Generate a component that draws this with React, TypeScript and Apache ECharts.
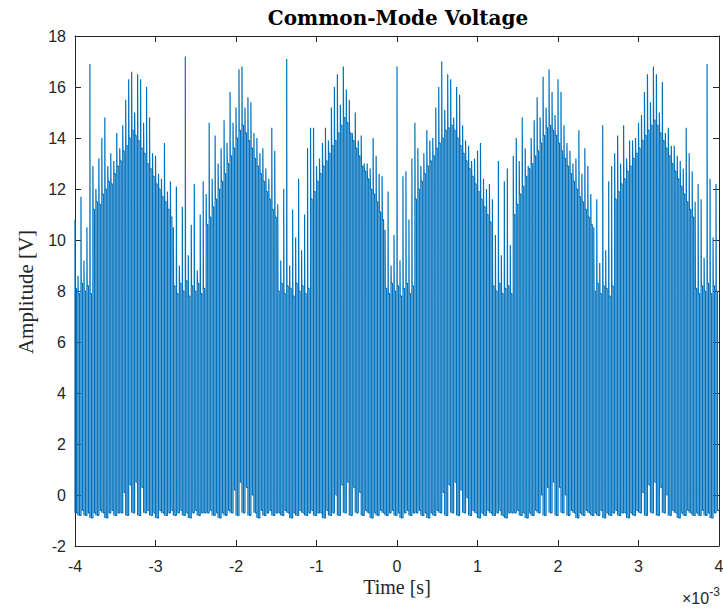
import React, { useEffect, useRef } from "react";
import * as echarts from "echarts";

// Time axis (milliseconds; axis shows ×10^-3 s)
const timeStartMs = -4;
const pulseCount = 216;
const pulsePeriodMs = 8 / pulseCount;

// Plateau level of each switching pulse [V]
const pulseTop = [
  // trough
  8.1, 7.9, 8.3, 8.0, 8.2, 7.9,
  // hump 1
  11.2, 11.5, 11.4, 11.8, 12.0, 12.3, 12.2, 12.6, 12.9, 13.1, 13.5, 13.7, 14.0, 14.3, 14.1, 13.9, 13.6, 13.4, 13.0, 12.8, 12.5, 12.2, 12.0, 11.7, 11.5, 11.2, 10.9,
  // trough
  8.2, 7.9, 8.3, 8.0, 8.4, 7.8, 8.2, 8.0, 8.3, 7.9, 8.1,
  // hump 2
  10.6, 10.9, 11.3, 11.6, 12.0, 12.3, 12.6, 13.0, 13.3, 13.6, 14.0, 14.3, 14.5, 14.2, 13.9, 13.6, 13.2, 12.9, 12.6, 12.3, 11.9, 11.6, 11.2, 10.9,
  // trough
  8.0, 8.3, 7.9, 8.2, 8.1, 7.8, 8.3, 8.0, 8.2, 7.9, 8.1,
  // hump 3
  11.6, 11.9, 12.3, 12.6, 12.9, 13.1, 13.4, 13.7, 13.9, 14.2, 14.5, 14.8, 14.6, 14.2, 13.9, 13.6, 13.3, 12.9, 12.7, 12.4, 12.0, 11.8, 11.5, 11.1, 10.8,
  // trough
  8.1, 7.9, 8.3, 8.0, 8.2, 7.8, 8.1, 8.3, 7.9, 8.2,
  // hump 4
  11.6, 12.0, 12.3, 12.6, 12.9, 13.1, 13.3, 13.6, 13.8, 14.0, 14.3, 14.4, 14.5, 14.3, 14.0, 13.7, 13.4, 13.1, 12.8, 12.5, 12.2, 11.9, 11.6, 11.3, 11.0, 10.7,
  // trough
  8.2, 8.0, 8.3, 7.9, 8.1, 8.2, 7.9,
  // hump 5
  11.0, 11.4, 11.8, 12.1, 12.5, 12.8, 13.0, 13.3, 13.5, 13.8, 14.1, 14.4, 14.5, 14.3, 14.1, 13.8, 13.5, 13.2, 12.9, 12.6, 12.3, 12.0, 11.7, 11.5, 11.2, 10.9, 10.6,
  // trough
  8.0, 8.3, 7.9, 8.2, 8.1, 7.8, 8.2,
  // hump 6
  11.6, 11.9, 12.2, 12.4, 12.7, 12.9, 13.2, 13.4, 13.6, 13.9, 14.1, 14.3, 14.5, 14.7, 14.5, 14.2, 13.9, 13.6, 13.3, 13.0, 12.7, 12.4, 12.1, 11.8, 11.5, 11.2, 10.9,
  // trough
  8.1, 7.9, 8.2, 8.0, 8.3, 7.9, 8.2, 8.0,
];

// Overshoot peak at each rising edge [V]
const pulseSpike = [
  10.8, 8.6, 11.7, 9.2, 10.5, 16.9,
  12.9, 12.0, 13.2, 14.0, 14.8, 12.9, 13.4, 13.1, 14.2, 13.6, 14.5, 15.5, 16.3, 16.6, 15.0, 16.5, 16.3, 14.6, 16.0, 14.8, 13.4, 13.3, 12.6, 12.4, 13.8, 11.9, 12.3,
  10.5, 12.1, 9.0, 11.3, 17.2, 9.4, 10.6, 12.2, 8.8, 11.0, 12.3,
  11.8, 14.6, 12.4, 14.1, 13.0, 13.6, 14.7, 13.8, 15.8, 14.6, 15.2, 16.7, 16.8, 15.2, 15.6, 15.4, 14.2, 14.0, 13.4, 13.6, 12.8, 12.4, 14.4, 13.5,
  11.4, 9.2, 12.0, 17.1, 9.0, 11.2, 10.1, 12.4, 9.6, 11.0, 13.6,
  14.4, 14.4, 12.9, 13.2, 13.8, 14.4, 13.9, 15.2, 16.0, 16.5, 15.3, 16.8, 15.9, 15.5, 14.2, 15.0, 13.9, 14.1, 13.0, 13.0, 12.8, 14.0, 13.3, 12.6, 12.5,
  10.4, 11.9, 9.0, 10.2, 16.8, 9.2, 12.5, 12.7, 10.8, 13.2,
  14.6, 13.6, 12.9, 13.4, 14.3, 13.9, 14.0, 15.2, 16.0, 17.0, 15.1, 16.5, 16.3, 14.8, 16.0, 15.7, 14.5, 13.9, 13.7, 13.1, 13.2, 13.5, 13.8, 12.4, 12.0, 12.2,
  11.6, 10.2, 13.1, 9.4, 12.3, 12.8, 9.8,
  13.3, 14.0, 13.1, 14.8, 13.6, 12.9, 14.0, 14.7, 15.6, 14.8, 16.4, 15.2, 16.7, 15.8, 14.9, 16.3, 15.8, 14.5, 13.8, 13.5, 13.0, 13.2, 14.3, 12.6, 13.6, 12.9, 11.8,
  10.5, 11.6, 9.1, 14.5, 9.6, 12.3, 12.9,
  13.4, 14.1, 13.0, 14.5, 13.2, 13.9, 13.9, 14.0, 14.6, 14.9, 15.8, 16.5, 15.4, 16.8, 16.5, 15.0, 16.2, 14.2, 14.4, 13.7, 13.7, 13.3, 13.1, 12.8, 14.4, 13.4, 12.7,
  11.5, 12.2, 11.6, 9.3, 16.9, 12.4, 10.1, 12.2,
];

// Low level between pulses [V]
const pulseLow = [
  -0.7, -0.8, -0.6, -0.8, -0.7, -0.9,
  -0.7, -0.8, -0.6, -0.7, -0.9, -0.7, -0.6, -0.8, -0.7, -0.7, 0.1, -0.8, 0.4, -0.7, 0.5, -0.8, 0.3, -0.7, -0.6, -0.8, -0.7, -0.9, -0.6, -0.7, -0.8, -0.7, -0.6,
  -0.8, -0.7, -0.6, -0.8, -0.7, -0.9, -0.7, -0.6, -0.8, -0.7, -0.7,
  -0.7, -0.6, -0.8, -0.7, -0.9, -0.7, -0.8, -0.6, -0.7, 0.2, -0.8, 0.5, -0.7, 0.3, -0.8, 0.0, -0.7, -0.9, -0.6, -0.8, -0.7, -0.6, -0.8, -0.7,
  -0.7, -0.8, -0.6, -0.7, -0.9, -0.7, -0.8, -0.6, -0.7, -0.8, -0.7,
  -0.6, -0.8, -0.7, -0.7, -0.9, -0.6, -0.8, -0.7, 0.0, -0.8, 0.4, -0.7, 0.5, -0.8, 0.3, -0.7, 0.1, -0.8, -0.6, -0.7, -0.9, -0.7, -0.8, -0.6, -0.7,
  -0.8, -0.7, -0.6, -0.8, -0.7, -0.9, -0.7, -0.6, -0.8, -0.7,
  -0.7, -0.6, -0.8, -0.7, -0.9, -0.7, -0.8, -0.6, -0.7, 0.1, -0.8, 0.4, -0.7, 0.5, -0.8, 0.2, -0.7, -0.1, -0.8, -0.6, -0.7, -0.9, -0.7, -0.8, -0.6, -0.7,
  -0.8, -0.7, -0.6, -0.8, -0.9, -0.7, -0.7,
  -0.7, -0.6, -0.8, -0.7, -0.9, -0.7, -0.8, -0.6, -0.7, 0.0, -0.8, 0.3, -0.7, 0.5, -0.8, 0.3, -0.7, 0.0, -0.8, -0.6, -0.7, -0.9, -0.7, -0.8, -0.6, -0.7, -0.8,
  -0.7, -0.8, -0.6, -0.9, -0.7, -0.8, -0.7,
  -0.6, -0.8, -0.7, -0.7, -0.9, -0.7, -0.8, -0.6, -0.7, 0.1, -0.8, 0.4, -0.7, 0.5, -0.8, 0.3, -0.7, 0.0, -0.8, -0.6, -0.7, -0.9, -0.7, -0.8, -0.6, -0.7, -0.8,
  -0.7, -0.8, -0.6, -0.8, -0.7, -0.9, -0.7, -0.6,
];

const xMin = -4;
const xMax = 4;
const xStep = 1;
const yMin = -2;
const yMax = 18;
const yStep = 2;

const titleText = "Common-Mode Voltage";
const xLabelText = "Time [s]";
const yLabelText = "Amplitude [V]";

function buildWave(): [number, number][] {
  const pts: [number, number][] = [];
  for (let i = 0; i < pulseTop.length; i++) {
    const t0 = timeStartMs + i * pulsePeriodMs;
    const lo = pulseLow[i];
    pts.push([t0, lo]);
    pts.push([t0, pulseSpike[i]]);
    pts.push([t0 + pulsePeriodMs * 0.08, pulseTop[i]]);
    pts.push([t0 + pulsePeriodMs * 0.5, pulseTop[i]]);
    pts.push([t0 + pulsePeriodMs * 0.5, lo]);
    pts.push([t0 + pulsePeriodMs, lo]);
  }
  return pts;
}

const axisColor = "#262626";
const sans = "'Liberation Sans', Arial, Helvetica, sans-serif";
const serif = "'Liberation Serif', 'Times New Roman', serif";
const wideSerif = "'DejaVu Serif', 'Liberation Serif', serif";

export default function App() {
  const ref = useRef<HTMLDivElement>(null);
  useEffect(() => {
    if (!ref.current) return;
    const chart = echarts.init(ref.current, null, { renderer: "svg" });
    const baseAxis = {
      type: "value" as const,
      splitLine: { show: false },
      axisLine: { show: true, onZero: false, lineStyle: { color: axisColor, width: 1 } },
      axisTick: { show: true, inside: true, length: 6, lineStyle: { color: axisColor, width: 1 } },
    };
    chart.setOption({
      animation: false,
      backgroundColor: "#ffffff",
      grid: { left: 75, right: 4, top: 36, bottom: 67, outerBoundsMode: "none", containLabel: false },
      xAxis: [
        {
          ...baseAxis,
          min: xMin,
          max: xMax,
          interval: xStep,
          position: "bottom",
          axisLabel: { color: axisColor, fontSize: 16, fontFamily: sans, margin: 12 },
        },
        {
          ...baseAxis,
          min: xMin,
          max: xMax,
          interval: xStep,
          position: "top",
          axisLabel: { show: false },
        },
      ],
      yAxis: [
        {
          ...baseAxis,
          min: yMin,
          max: yMax,
          interval: yStep,
          position: "left",
          axisLabel: { color: axisColor, fontSize: 16, fontFamily: sans, margin: 9 },
        },
        {
          ...baseAxis,
          min: yMin,
          max: yMax,
          interval: yStep,
          position: "right",
          axisLabel: { show: false },
        },
      ],
      series: [
        {
          type: "line",
          xAxisIndex: 0,
          yAxisIndex: 0,
          data: buildWave(),
          showSymbol: false,
          symbol: "none",
          silent: true,
          lineStyle: { color: "#0072BD", width: 1.2 },
        },
      ],
      graphic: [
        {
          type: "text",
          x: 398,
          y: 18,
          style: {
            text: titleText,
            font: `bold 20px ${wideSerif}`,
            fill: "#000000",
            textAlign: "center",
            textVerticalAlign: "middle",
          },
        },
        {
          type: "text",
          x: 397,
          y: 587,
          style: {
            text: xLabelText,
            font: `20px ${serif}`,
            fill: axisColor,
            textAlign: "center",
            textVerticalAlign: "middle",
          },
        },
        {
          type: "text",
          x: 26,
          y: 292,
          rotation: Math.PI / 2,
          style: {
            text: yLabelText,
            font: `21px ${serif}`,
            fill: axisColor,
            textAlign: "center",
            textVerticalAlign: "middle",
          },
        },
        {
          type: "text",
          x: 682,
          y: 596,
          style: {
            text: "{b|×10}{s|-3}",
            fill: axisColor,
            textAlign: "left",
            textVerticalAlign: "middle",
            rich: {
              b: { fontSize: 16, fontFamily: sans, fill: axisColor, verticalAlign: "bottom", lineHeight: 20 },
              s: { fontSize: 12, fontFamily: sans, fill: axisColor, verticalAlign: "top", lineHeight: 20 },
            },
          },
        },
      ],
    });
    return () => chart.dispose();
  }, []);
  return (
    <div
      ref={ref}
      style={{ position: "fixed", left: 0, top: 0, width: 723, height: 613 }}
    />
  );
}
